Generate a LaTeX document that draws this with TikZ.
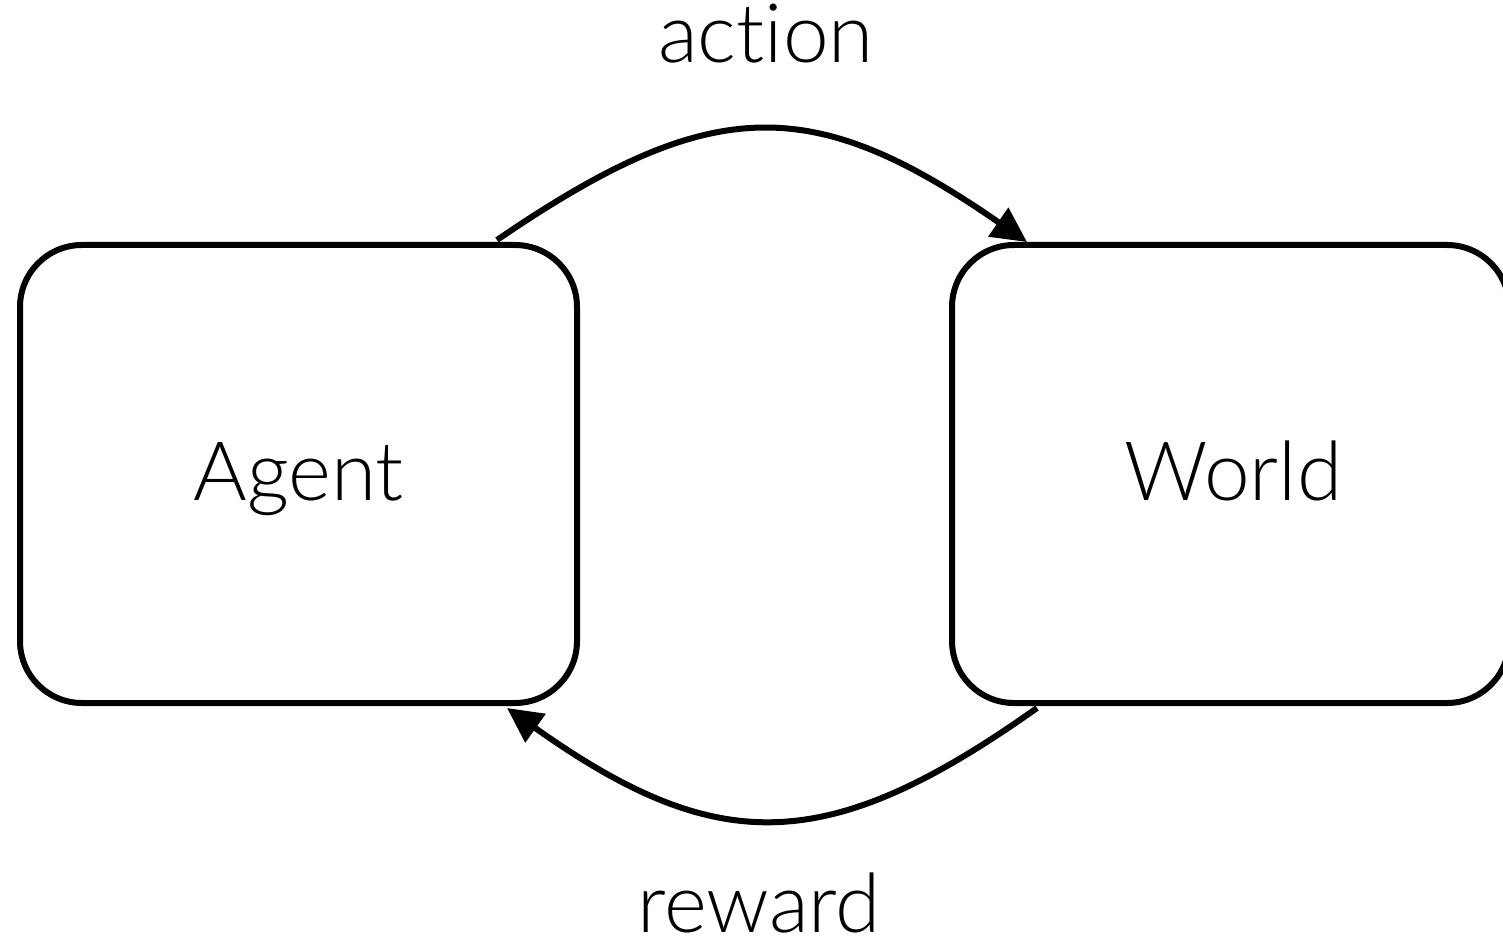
\documentclass[tikz,border=0pt]{standalone}
\usepackage{fontspec}
\IfFontExistsTF{Lato Light}
  {\setmainfont{Lato Light}[Ligatures=NoCommon]}
  {\setmainfont{Lato}[Ligatures=NoCommon]}
\usetikzlibrary{arrows.meta,calc}
\begin{document}
\begin{tikzpicture}[x=1pt,y=-1pt,
  panel/.style={draw, line width=6pt, rounded corners=62pt,
    minimum width=557pt, minimum height=458pt, inner sep=0pt, outer sep=0pt},
  word/.style={font=\fontsize{82}{92}\selectfont, inner sep=0pt, anchor=base},
  flow/.style={line width=6pt, -{Triangle[length=35pt,width=34pt]}}]
  \useasboundingbox (0,0) rectangle (1503,941);
  \clip (0,0) rectangle (1503,941);

  % the two boxes
  \node[panel] (agent) at (298.5,474) {};
  \node[panel] (world) at (1230.5,474) {};
  \node[word] (agentlbl) at ($(agent.center)+(0,26)$) {Agent};
  \node[word] (worldlbl) at ($(world.center)+(3,26)$) {World};

  % arrow ends
  \coordinate (actfrom) at ($(agent.north east)+(-80,-5)$);
  \coordinate (actto)   at ($(world.north west)+(75,-3)$);
  \coordinate (rewfrom) at ($(world.south west)+(85,5)$);
  \coordinate (rewto)   at ($(agent.south east)+(-70,5)$);

  % connectors
  \draw[flow] (actfrom) .. controls +(215,-147) and +(-215,-149) .. (actto);
  \draw[flow] (rewfrom) .. controls +(-210,149) and +(210,149) .. (rewto);

  % labels
  \node[word] (actlbl) at (766,63) {action};
  \node[word] (rewlbl) at (759,932) {reward};
\end{tikzpicture}
\end{document}
